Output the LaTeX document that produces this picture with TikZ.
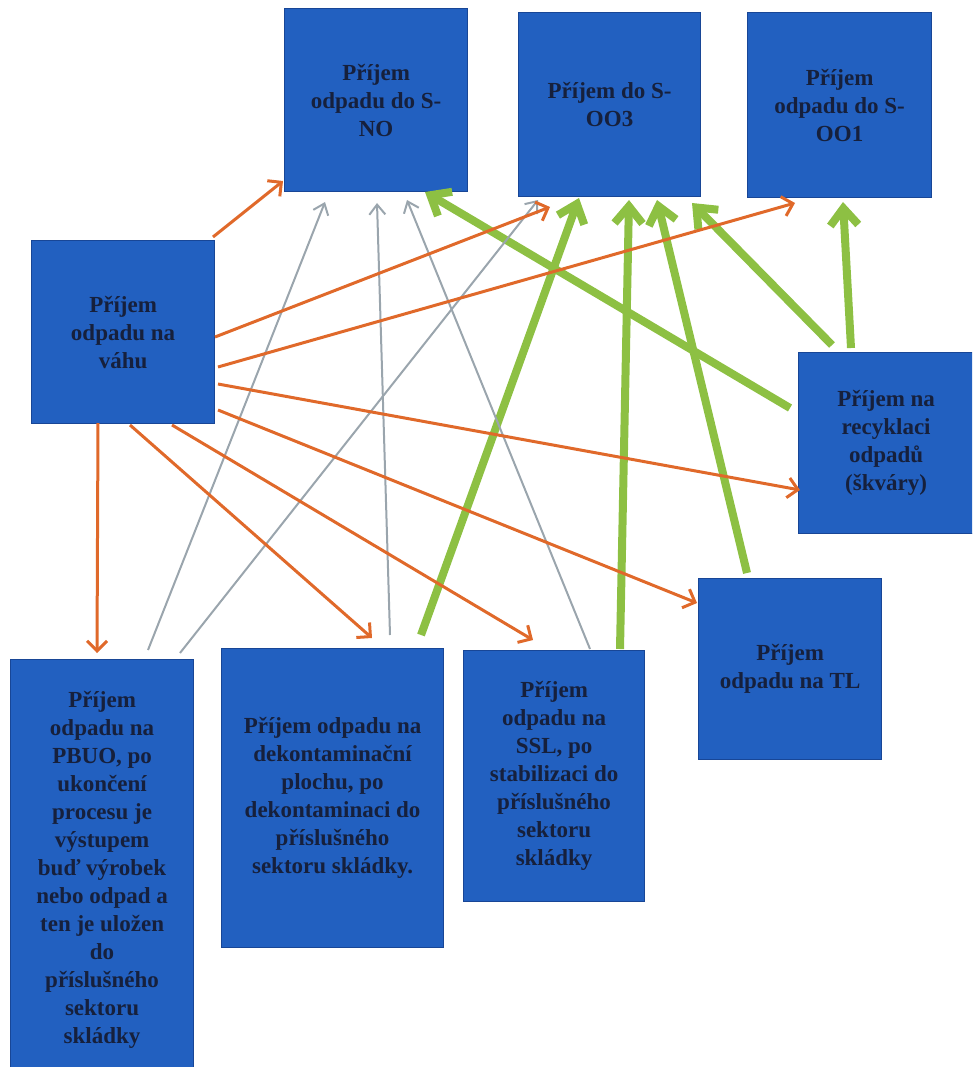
\documentclass[tikz,border=0pt]{standalone}
\usepackage{fontspec}
\setmainfont{Liberation Serif}
\usetikzlibrary{arrows.meta,calc}
\definecolor{boxblue}{RGB}{34,96,192}
\definecolor{boxedge}{RGB}{24,70,150}
\definecolor{txt}{RGB}{22,32,60}
\definecolor{org}{RGB}{224,105,42}
\definecolor{grn}{RGB}{141,192,67}
\definecolor{gry}{RGB}{154,165,173}
\tikzset{
  procbox/.style={draw=boxedge, line width=1.2pt, fill=boxblue, anchor=north west,
    inner sep=0pt, align=center, text=txt, font=\fontsize{23}{28}\selectfont\bfseries},
  orangearrow/.style={draw=org, line width=3pt, -{Straight Barb[length=10pt,width=20pt]}},
  grayarrow/.style={draw=gry, line width=2pt, -{Straight Barb[length=10pt,width=16pt]}},
  greenarrow/.style={draw=grn, line width=8pt, -{Straight Barb[length=17pt,width=28pt]}}
}
\begin{document}
\begin{tikzpicture}[x=1pt,y=-1pt]
\useasboundingbox (0,0) rectangle (972,1067);
\begin{scope}
\clip (0,0) rectangle (972,1067);
\node[procbox, minimum width=183pt, minimum height=183pt] (no) at (284,8) {Příjem\\odpadu do S-\\NO};
\node[procbox, minimum width=182pt, minimum height=184pt] (oo3) at (518,12) {Příjem do S-\\OO3};
\node[procbox, minimum width=184pt, minimum height=185pt] (oo1) at (747,12) {Příjem\\odpadu do S-\\OO1};
\node[procbox, minimum width=183pt, minimum height=183pt] (vahu) at (31,240) {Příjem\\odpadu na\\váhu};
\node[procbox, minimum width=175pt, minimum height=181pt] (rec) at (798,352) {Příjem na\\recyklaci\\odpadů\\(škváry)};
\node[procbox, minimum width=183pt, minimum height=181pt] (tl) at (698,578) {Příjem\\odpadu na TL};
\node[procbox, minimum width=181pt, minimum height=251pt] (ssl) at (463,650) {Příjem\\odpadu na\\SSL, po\\stabilizaci do\\příslušného\\sektoru\\skládky};
\node[procbox, minimum width=222pt, minimum height=299pt] (dek) at (221,648) {Příjem odpadu na\\dekontaminační\\plochu, po\\dekontaminaci do\\příslušného\\sektoru skládky.};
\node[procbox, minimum width=183pt, minimum height=421pt] (pbuo) at (10,659) {Příjem\\odpadu na\\PBUO, po\\ukončení\\procesu je\\výstupem\\buď výrobek\\nebo odpad a\\ten je uložen\\do\\příslušného\\sektoru\\skládky};
\end{scope}
% green arrows
\draw[greenarrow] ($(dek.north west)+(200,-13)$) -- ($(oo3.north west)+(61,186)$);
\draw[greenarrow] ($(ssl.north west)+(157,-1)$) -- ($(oo3.north west)+(111,188)$);
\draw[greenarrow] ($(tl.north west)+(49,-5)$) -- ($(oo3.north west)+(139,188)$);
\draw[greenarrow] ($(rec.north west)+(34,-7)$) -- ($(oo3.north west)+(174,191)$);
\draw[greenarrow] ($(rec.north west)+(53,-4)$) -- ($(oo1.north west)+(96,190)$);
\draw[greenarrow] ($(rec.north west)+(-8,56)$) -- ($(no.north west)+(141,184)$);
% gray arrows
\draw[grayarrow] ($(pbuo.north west)+(138,-9)$) -- ($(no.north west)+(41,194)$);
\draw[grayarrow] ($(pbuo.north west)+(170,-6)$) -- ($(oo3.north west)+(20,188)$);
\draw[grayarrow] ($(dek.north west)+(169,-13)$) -- ($(no.north west)+(93,195)$);
\draw[grayarrow] ($(ssl.north west)+(127,-1)$) -- ($(no.north west)+(123,192)$);
% orange arrows
\draw[orangearrow] ($(vahu.north west)+(182,-3)$) -- ($(no.north west)+(-1,173)$);
\draw[orangearrow] ($(vahu.north west)+(184,97)$) -- ($(oo3.north west)+(32,195)$);
\draw[orangearrow] ($(vahu.north west)+(187,127)$) -- ($(oo1.north west)+(48,191)$);
\draw[orangearrow] ($(vahu.north west)+(187,144)$) -- ($(rec.north west)+(2,138)$);
\draw[orangearrow] ($(vahu.north west)+(187,170)$) -- ($(tl.north west)+(-1,25)$);
\draw[orangearrow] ($(vahu.north west)+(141,185)$) -- ($(ssl.north west)+(70,-10)$);
\draw[orangearrow] ($(vahu.north west)+(99,185)$) -- ($(dek.north west)+(151,-10)$);
\draw[orangearrow] ($(vahu.north west)+(67,183)$) -- ($(pbuo.north west)+(87,-6)$);
\end{tikzpicture}
\end{document}
